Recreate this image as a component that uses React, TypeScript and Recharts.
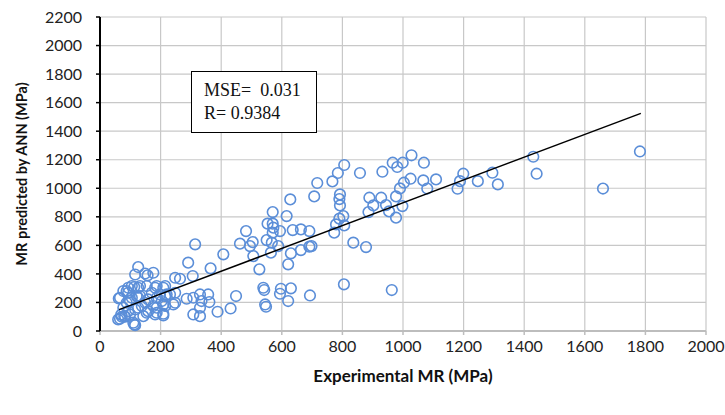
import React from 'react';
import {
    ScatterChart,
    Scatter,
    XAxis,
    YAxis,
    CartesianGrid,
} from 'recharts';

// Experimental MR vs ANN predicted MR (MPa)
const EXPERIMENTAL: number[] = [
    62, 66, 70, 72, 77, 77, 83, 88, 88, 99, 99, 105, 110, 113, 116, 116, 121, 126, 126, 126,
    132, 138, 143, 149, 149, 154, 157, 159, 171, 176, 176, 182, 187, 187, 187, 198, 204, 209, 209, 215,
    220, 231, 248, 248, 264, 286, 291, 306, 308, 314, 330, 330, 330, 357, 361, 365, 388, 407, 431, 449,
    462, 482, 495, 504, 506, 526, 539, 542, 545, 548, 550, 553, 564, 567, 570, 570, 572, 570, 588, 594,
    594, 597, 616, 621, 621, 628, 630, 630, 636, 663, 663, 691, 691, 693, 698, 707, 717, 767, 773, 779,
    785, 790, 790, 792, 792, 803, 805, 806, 806, 836, 858, 878, 886, 889, 902, 928, 932, 944, 954, 963,
    966, 977, 977, 981, 990, 998, 999, 1003, 1025, 1028, 1067, 1069, 1080, 1109, 1180, 1188, 1199, 1247, 1295, 1313,
    1430, 1441, 1660, 1782,
    66, 60, 80, 113, 93, 93, 126, 182, 209, 105, 132, 159, 187, 215, 248, 242, 215, 154, 116, 93,
    209, 308, 335,
];

const PREDICTED: number[] = [
    228, 86, 115, 100, 163, 280, 100, 280, 198, 210, 116, 315, 58, 308, 41, 396, 245, 448, 233, 163,
    315, 175, 104, 403, 198, 315, 390, 139, 268, 175, 408, 116, 315, 163, 128, 256, 210, 186, 121, 315,
    256, 256, 198, 373, 366, 226, 479, 385, 116, 607, 256, 163, 104, 256, 203, 439, 135, 537, 158, 245,
    612, 700, 595, 623, 525, 432, 303, 287, 186, 170, 637, 752, 549, 619, 833, 752, 724, 689, 595, 700,
    261, 296, 805, 467, 210, 922, 299, 544, 707, 712, 567, 700, 591, 249, 595, 943, 1037, 1048, 689, 747,
    1107, 924, 787, 957, 880, 805, 327, 740, 1163, 619, 1107, 588, 833, 934, 880, 934, 1116, 882, 838, 287,
    1179, 943, 794, 1149, 999, 875, 1179, 1039, 1067, 1231, 1055, 1179, 998, 1062, 997, 1050, 1102, 1050, 1109, 1027,
    1221, 1102, 998, 1258,
    233, 81, 104, 46, 303, 268, 303, 303, 303, 233, 245, 221, 233, 245, 268, 186, 175, 128, 151, 139,
    109, 233, 210,
];

// end points of the fitted trend line
const FIT_X: number[] = [63, 1785];
const FIT_Y: number[] = [150, 1525];

const X_TICKS: number[] = [0, 200, 400, 600, 800, 1000, 1200, 1400, 1600, 1800, 2000];
const Y_TICKS: number[] = [0, 200, 400, 600, 800, 1000, 1200, 1400, 1600, 1800, 2000, 2200];

const points = EXPERIMENTAL.map((x, i) => ({ x, y: PREDICTED[i] }));
const fitLine = FIT_X.map((x, i) => ({ x, y: FIT_Y[i] }));

const MARKER = '#5b8ed8';
const TICK_FONT = { fill: '#222', fontFamily: 'Lato', fontSize: 16 };

const HollowDot = (props: any) => {
    const { cx, cy } = props;
    if (cx == null || cy == null) return null;
    return <circle cx={cx} cy={cy} r={5.3} fill="none" stroke={MARKER} strokeWidth={1.6} />;
};

export default function App() {
    return (
        <div style={{ position: 'absolute', left: 0, top: 0, width: 725, height: 415, background: '#fff' }}>
            <ScatterChart width={725} height={415} margin={{ top: 17, right: 19, left: 40, bottom: 53 }}>
                <CartesianGrid stroke="#c8c8c8" strokeWidth={1.2} />
                <XAxis
                    type="number"
                    dataKey="x"
                    domain={[0, 2000]}
                    ticks={X_TICKS}
                    interval={0}
                    height={31}
                    axisLine={{ stroke: '#bdbdbd', strokeWidth: 2 }}
                    tickLine={{ stroke: '#bdbdbd', strokeWidth: 1.5 }}
                    tickSize={4}
                    tickMargin={6}
                    tick={TICK_FONT}
                    label={{
                        value: 'Experimental MR (MPa)',
                        position: 'insideBottom',
                        offset: -20,
                        style: { fontFamily: 'Lato', fontWeight: 700, fontSize: 17, fill: '#111' },
                    }}
                />
                <YAxis
                    type="number"
                    dataKey="y"
                    domain={[0, 2200]}
                    ticks={Y_TICKS}
                    interval={0}
                    width={60}
                    axisLine={{ stroke: '#000', strokeWidth: 2 }}
                    tickLine={{ stroke: '#000', strokeWidth: 1.5 }}
                    tickSize={4}
                    tickMargin={14}
                    tick={TICK_FONT}
                    label={{
                        value: 'MR predicted by ANN (MPa)',
                        angle: -90,
                        position: 'insideLeft',
                        offset: -18,
                        style: { textAnchor: 'middle', fontFamily: 'Lato', fontWeight: 700, fontSize: 14.5, fill: '#111' },
                    }}
                />
                <Scatter data={points} shape={<HollowDot />} isAnimationActive={false} />
                <Scatter
                    data={fitLine}
                    line={{ stroke: '#000', strokeWidth: 1.5 }}
                    shape={() => null}
                    isAnimationActive={false}
                />
            </ScatterChart>
            <div
                style={{
                    position: 'absolute',
                    left: 191,
                    top: 71,
                    width: 126,
                    height: 62,
                    border: '1px solid #000',
                    background: '#fff',
                    fontFamily: '"Liberation Serif", serif',
                    fontSize: 18,
                    lineHeight: '23px',
                    padding: '7px 0 0 12px',
                    boxSizing: 'border-box',
                    color: '#111',
                }}
            >
                <div style={{ whiteSpace: 'pre' }}>{'MSE=  0.031'}</div>
                <div style={{ whiteSpace: 'pre' }}>{'R= 0.9384'}</div>
            </div>
        </div>
    );
}
